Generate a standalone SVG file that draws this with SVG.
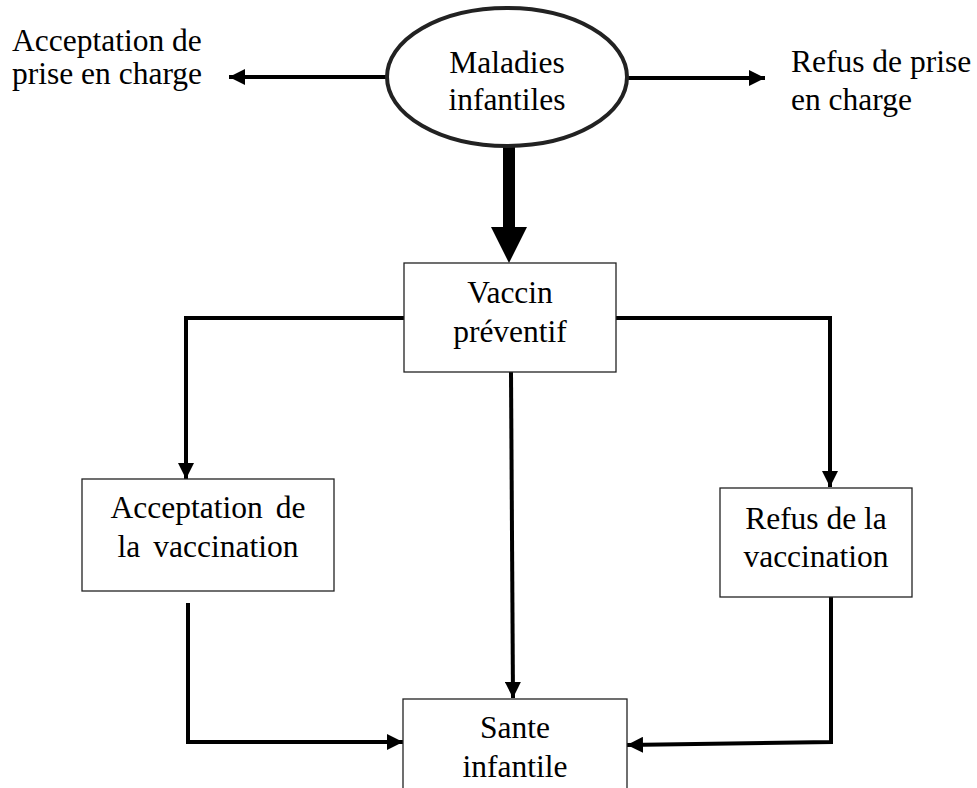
<svg xmlns="http://www.w3.org/2000/svg" width="977" height="788" viewBox="0 0 977 788">
<style>
text{font-family:"Liberation Serif","Times New Roman","DejaVu Serif",serif;font-size:31.5px;fill:#000}
.c{text-anchor:middle}
.box{fill:#fff;stroke:#222;stroke-width:1.3}
.ln{fill:none;stroke:#000;stroke-width:4}
</style>
<defs>
<marker id="ah" markerUnits="userSpaceOnUse" markerWidth="18" markerHeight="16" refX="16" refY="8" orient="auto">
<path d="M0,0 L16,8 L0,16 Z" fill="#000"/>
</marker>
</defs>
<rect width="977" height="788" fill="#fff"/>
<g id="connectors">
<line class="ln" x1="387" y1="77" x2="229" y2="77" marker-end="url(#ah)"/>
<line class="ln" x1="628" y1="78" x2="765" y2="78" marker-end="url(#ah)"/>
<line x1="509" y1="147" x2="509" y2="228" stroke="#000" stroke-width="12"/>
<path d="M491,227 L527,227 L509,263 Z" fill="#000"/>
<polyline class="ln" points="404,318 186,318 186,479" marker-end="url(#ah)"/>
<polyline class="ln" points="616,318 830,318 830,487" marker-end="url(#ah)"/>
<line class="ln" x1="511" y1="372" x2="513" y2="698" marker-end="url(#ah)"/>
<polyline class="ln" points="188,603 188,742 403,742" marker-end="url(#ah)"/>
<polyline class="ln" points="831,597 831,742 627,745" marker-end="url(#ah)"/>
</g>
<g id="maladies">
<ellipse cx="507" cy="77" rx="120" ry="69" fill="#fff" stroke="#222" stroke-width="4"/>
<text class="c" x="507" y="73">Maladies</text>
<text class="c" x="507" y="110">infantiles</text>
</g>
<g id="acceptation-prise">
<text x="12" y="51">Acceptation de</text>
<text x="12" y="84">prise en charge</text>
</g>
<g id="refus-prise">
<text x="791" y="72">Refus de prise</text>
<text x="791" y="110">en charge</text>
</g>
<g id="vaccin">
<rect class="box" x="404" y="263" width="212" height="109"/>
<text class="c" x="510" y="303">Vaccin</text>
<text class="c" x="510" y="342">préventif</text>
</g>
<g id="acceptation-vaccination">
<rect class="box" x="82" y="479" width="252" height="112"/>
<text class="c" x="208" y="518" word-spacing="5">Acceptation de</text>
<text class="c" x="208" y="557" word-spacing="5">la vaccination</text>
</g>
<g id="refus-vaccination">
<rect class="box" x="720" y="488" width="192" height="109"/>
<text class="c" x="816" y="529">Refus de la</text>
<text class="c" x="816" y="567">vaccination</text>
</g>
<g id="sante">
<rect class="box" x="403" y="699" width="224" height="100"/>
<text class="c" x="515" y="738">Sante</text>
<text class="c" x="515" y="777">infantile</text>
</g>
</svg>
